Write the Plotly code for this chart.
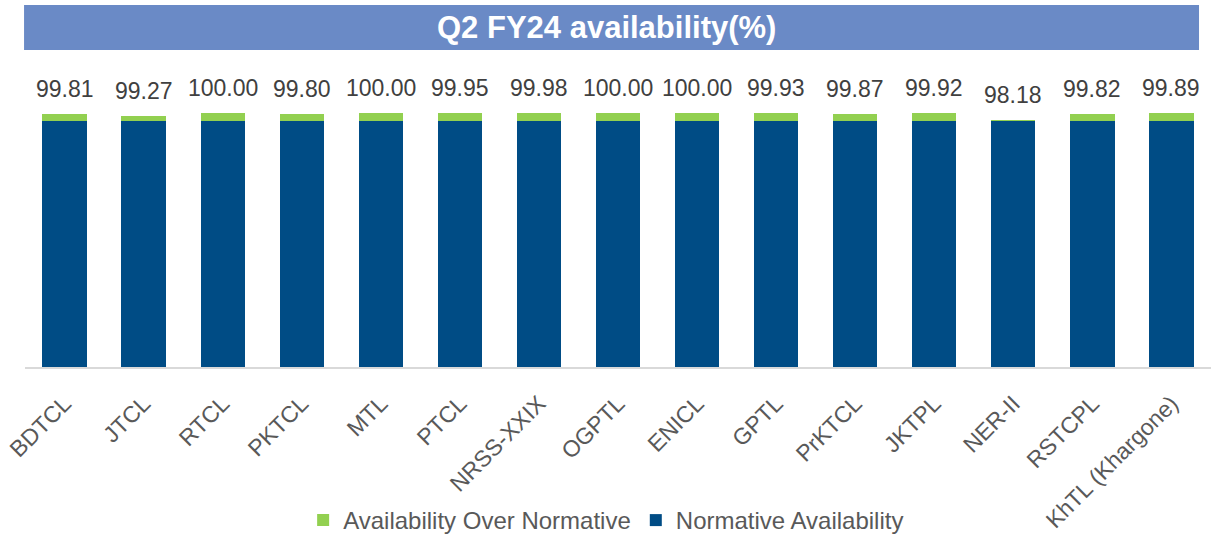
import plotly.graph_objects as go

categories = ["BDTCL", "JTCL", "RTCL", "PKTCL", "MTL", "PTCL", "NRSS-XXIX", "OGPTL",
              "ENICL", "GPTL", "PrKTCL", "JKTPL", "NER-II", "RSTCPL", "KhTL (Khargone)"]
total_availability = [99.81, 99.27, 100.00, 99.80, 100.00, 99.95, 99.98, 100.00,
                      100.00, 99.93, 99.87, 99.92, 98.18, 99.82, 99.89]
normative = [98.0] * len(categories)
over_normative = [round(t - n, 2) for t, n in zip(total_availability, normative)]

title_text = "Q2 FY24 availability(%)"

FONT = "Arial, Liberation Sans, sans-serif"
BLUE = "#004c85"
GREEN = "#92d050"

fig = go.Figure()
fig.add_trace(go.Bar(
    x=categories, y=normative, name="Normative Availability",
    marker=dict(color=BLUE, line=dict(width=0)), hoverinfo="skip",
))
fig.add_trace(go.Bar(
    x=categories, y=over_normative, name="Availability Over Normative",
    marker=dict(color=GREEN, line=dict(width=0)), hoverinfo="skip",
))

for c, t in zip(categories, total_availability):
    fig.add_annotation(
        x=c, y=t, text=f"{t:.2f}", showarrow=False,
        xref="x", yref="y", yanchor="bottom", yshift=10,
        font=dict(family=FONT, size=23, color="#404040"),
    )

# plot area: x 25..1211, y 60..367
fig.add_shape(
    type="rect", xref="paper", yref="paper",
    x0=-0.0008, x1=0.9899, y0=1.0326, y1=1.179,
    fillcolor="#6a8ac6", line=dict(width=0), layer="above",
)
fig.add_annotation(
    xref="paper", yref="paper", x=0.4907, y=1.1058,
    text=f"<b>{title_text}</b>", showarrow=False,
    xanchor="center", yanchor="middle",
    font=dict(family=FONT, size=31, color="white"),
)

fig.update_layout(
    width=1211, height=538,
    margin=dict(l=25, r=0, t=60, b=171, autoexpand=False),
    barmode="stack", bargap=0.44,
    plot_bgcolor="white", paper_bgcolor="white",
    showlegend=True,
    legend=dict(
        orientation="h", x=0.49, xanchor="center", y=-0.50, yanchor="middle",
        traceorder="reversed",
        font=dict(family=FONT, size=24, color="#595959"),
        itemwidth=30,
    ),
    xaxis=dict(
        tickangle=-45, showgrid=False, showline=True,
        linecolor="#d9d9d9", linewidth=2,
        tickfont=dict(family=FONT, size=23, color="#595959"),
        ticks="", automargin=False, ticklabelstandoff=12,
    ),
    yaxis=dict(
        range=[36.5, 113.25], visible=False, showgrid=False, automargin=False,
    ),
)

fig.write_html(
    "out.html",
    config={"displayModeBar": False},
    post_script="document.body.style.margin='0';document.body.style.overflow='hidden';",
)
